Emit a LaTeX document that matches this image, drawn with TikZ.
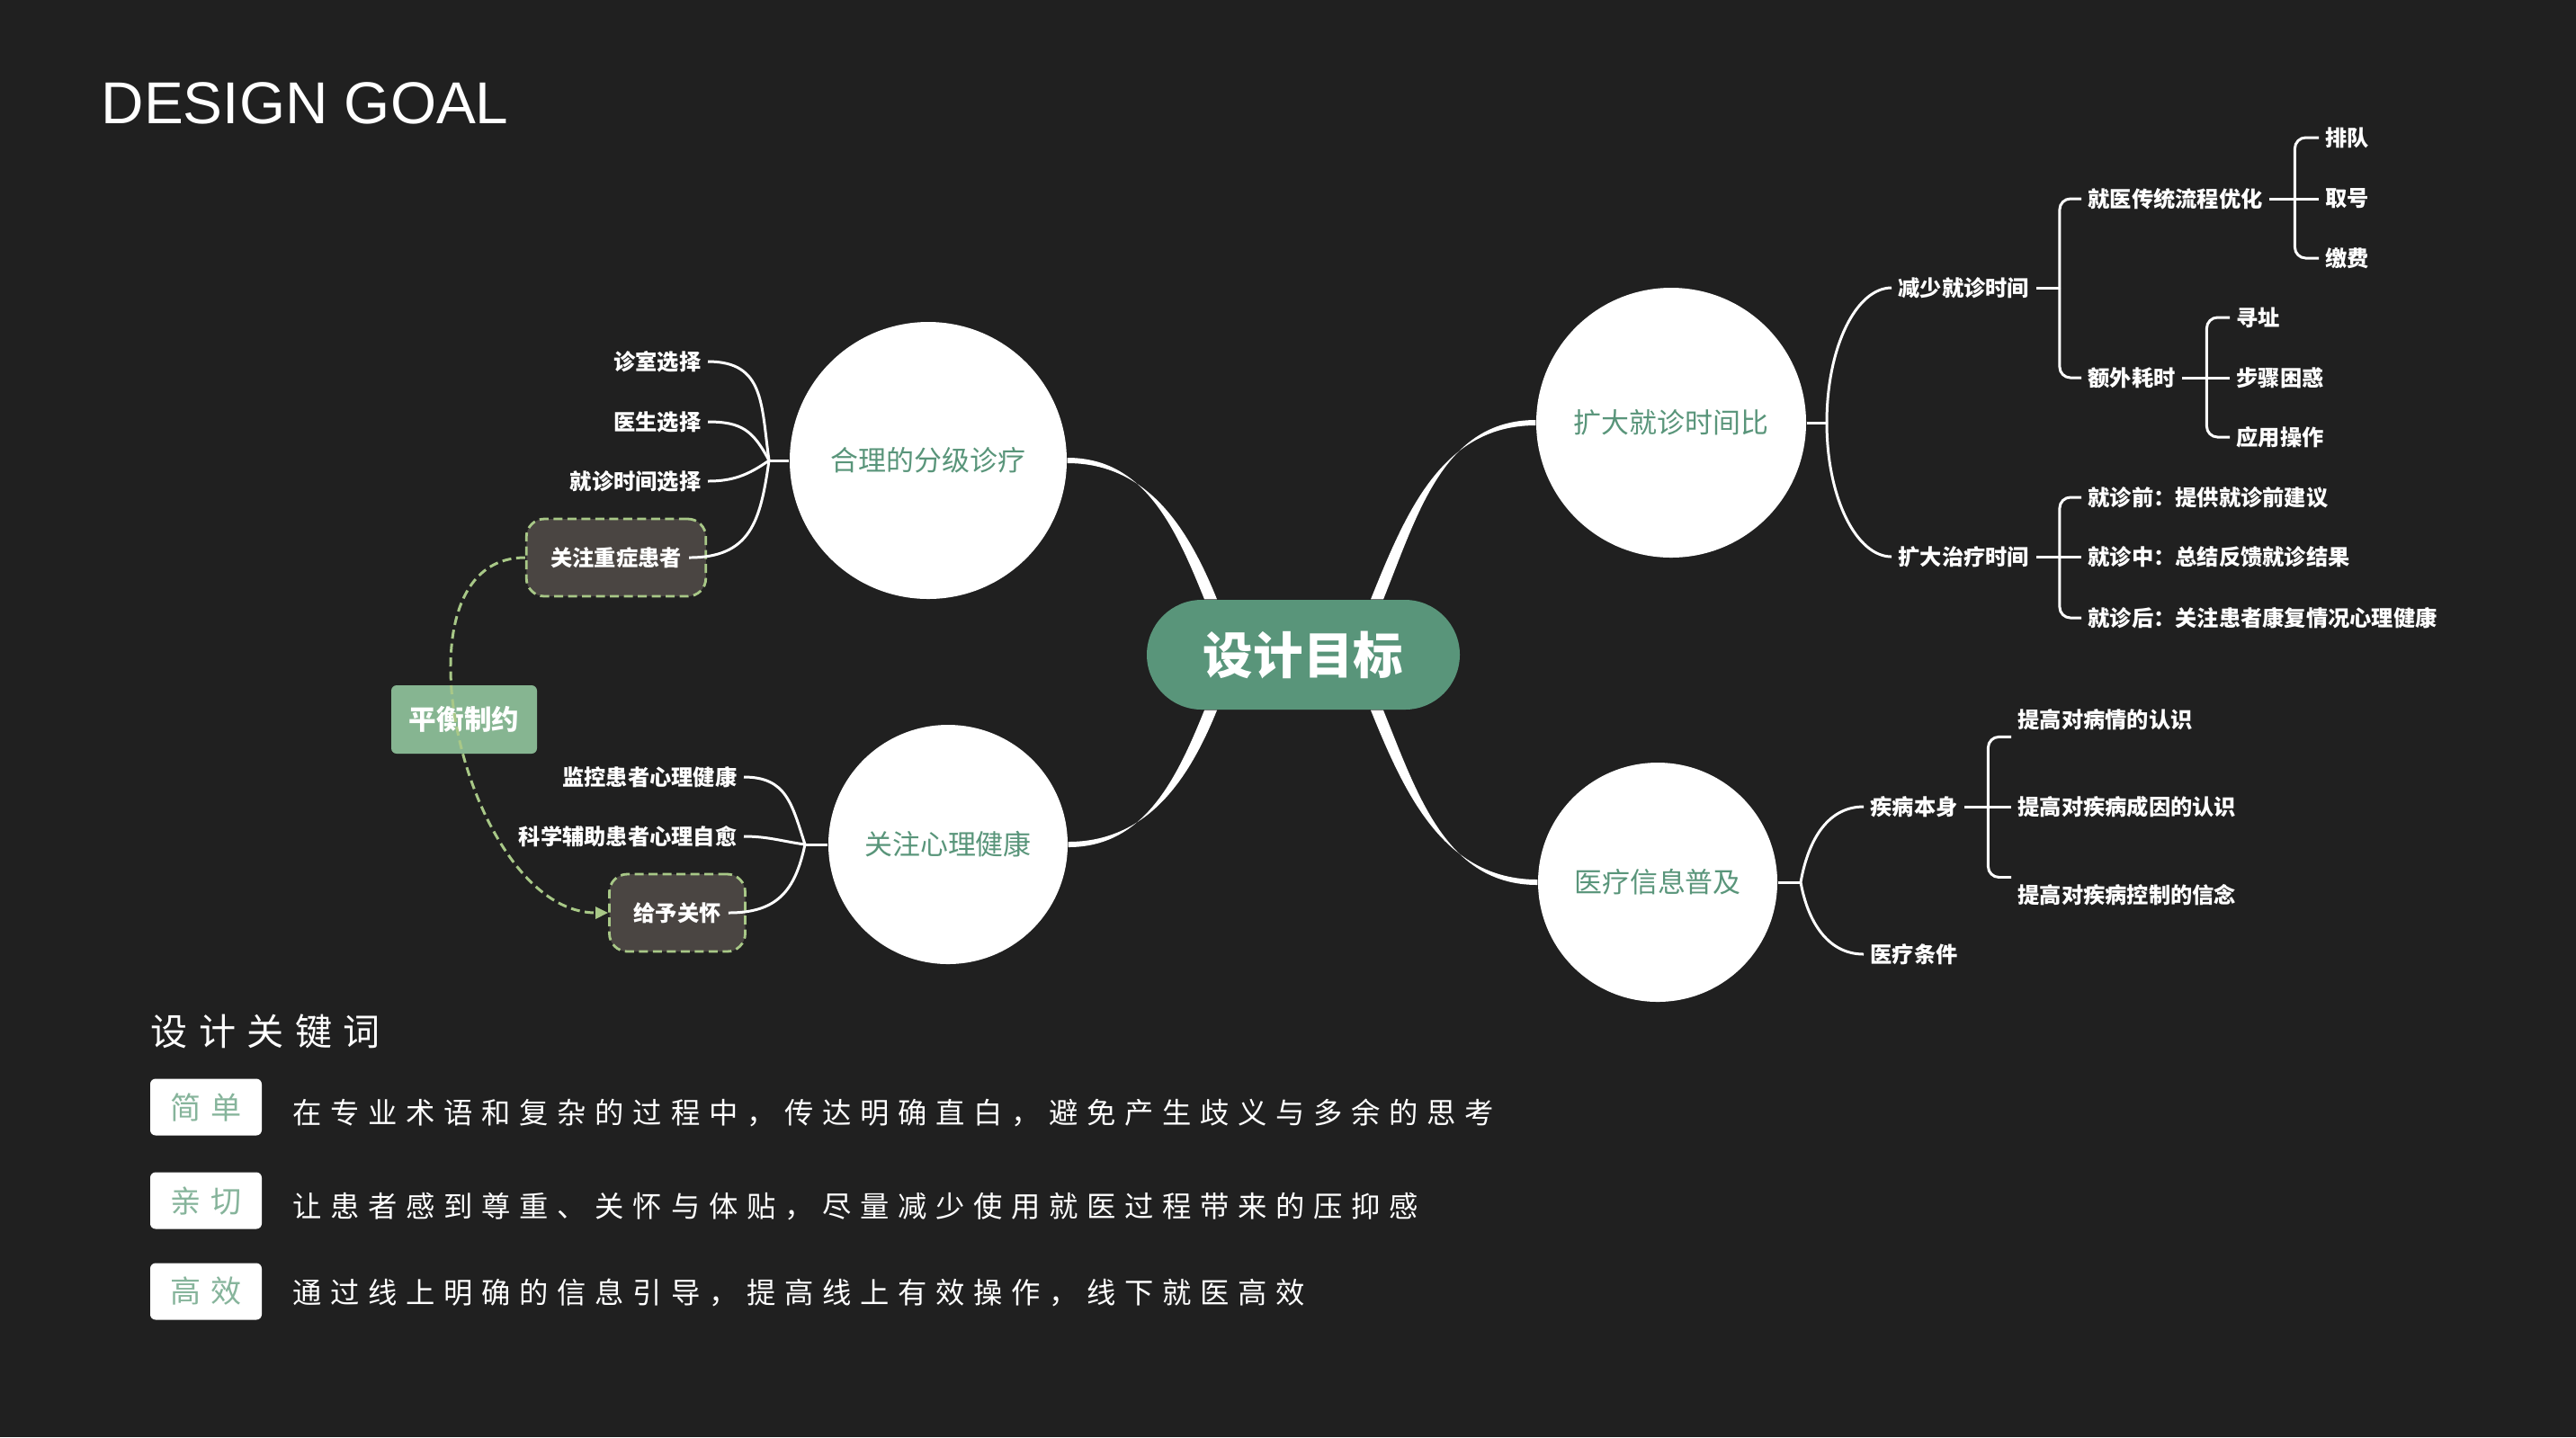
\documentclass[tikz,border=0pt]{standalone}
\usepackage{fontspec}
\setmainfont{Liberation Sans}
\newfontfamily\cjk{Noto Sans CJK SC}
\newfontfamily\cjkwide[LetterSpace=30]{Noto Sans CJK SC}
\usetikzlibrary{arrows.meta}
\definecolor{bg}{RGB}{32,32,32}
\definecolor{goalgreen}{RGB}{89,149,122}
\definecolor{balgreen}{RGB}{134,181,145}
\definecolor{dashgreen}{RGB}{168,200,135}
\definecolor{boxbrown}{RGB}{74,69,66}
\definecolor{taggreen}{RGB}{134,180,155}

\begin{document}
\begin{tikzpicture}[
  goal/.style={fill=goalgreen, rounded corners=0.61cm,
               minimum width=3.48cm, minimum height=1.22cm,
               text=white, font=\cjk\bfseries\fontsize{15.8pt}{18pt}\selectfont},
  topic/.style={circle, fill=white, inner sep=0pt, text=goalgreen,
                font=\cjk\fontsize{8.8pt}{10pt}\selectfont},
  leaf/.style={text=white, inner sep=0.07cm,
               font=\cjk\bfseries\fontsize{6.9pt}{8pt}\selectfont},
  carebox/.style={leaf, draw=dashgreen, fill=boxbrown, line width=0.8pt,
                  dash pattern=on 0.1cm off 0.055cm, rounded corners=0.2cm,
                  inner xsep=0.27cm, minimum height=0.86cm},
  balbox/.style={fill=balgreen, rounded corners=0.06cm, text=white,
                 minimum width=1.62cm, minimum height=0.76cm,
                 font=\cjk\bfseries\fontsize{8.7pt}{10pt}\selectfont},
  trunk/.style={fill=white},
  twig/.style={white, line width=0.85pt},
  bracket/.style={twig, rounded corners=0.12cm},
  link/.style={dashgreen, line width=0.85pt, dash pattern=on 0.1cm off 0.055cm,
               -{Triangle[length=0.14cm, width=0.13cm]}},
  tag/.style={fill=white, rounded corners=0.06cm, text=taggreen,
              minimum width=1.24cm, minimum height=0.63cm, inner sep=0pt,
              font=\cjkwide\fontsize{9.7pt}{11pt}\selectfont},
  desc/.style={anchor=west, inner sep=0pt, text=white,
               font=\cjkwide\fontsize{9.2pt}{11pt}\selectfont},
]
  %% ---- background ----
  \fill[bg] (0,0) rectangle (28.64,-15.98);
  \useasboundingbox (0,0) rectangle (28.64,-15.98);

  \node[anchor=base west, inner sep=0, text=white,
        font=\fontsize{18.7pt}{22pt}\selectfont] (title) at (1.12,-1.37) {DESIGN GOAL};

  %% ---- root and topics ----
  \node[goal] (goal) at (14.49,-7.28) {设计目标};
  \node[topic, minimum size=3.08cm] (A) at (10.32,-5.12) {合理的分级诊疗};
  \node[topic, minimum size=3.00cm] (B) at (18.58,-4.70) {扩大就诊时间比};
  \node[topic, minimum size=2.66cm] (C) at (10.54,-9.39) {关注心理健康};
  \node[topic, minimum size=2.66cm] (D) at (18.43,-9.81) {医疗信息普及};

  \coordinate (ga) at ([xshift=-1.03cm]goal.north);
  \coordinate (gb) at ([xshift=0.82cm]goal.north);
  \coordinate (gc) at ([xshift=-1.03cm]goal.south);
  \coordinate (gd) at ([xshift=0.82cm]goal.south);
  \fill[trunk] ([xshift=-0.07cm]ga) to[out=112,in=0] ([yshift=0.03cm]A.east)
    -- ([yshift=-0.03cm]A.east) to[out=0,in=112] ([xshift=0.07cm]ga) -- cycle;
  \fill[trunk] ([xshift=0.07cm]gb) to[out=68,in=180] ([yshift=0.03cm]B.west)
    -- ([yshift=-0.03cm]B.west) to[out=180,in=68] ([xshift=-0.07cm]gb) -- cycle;
  \fill[trunk] ([xshift=-0.07cm]gc) to[out=-112,in=0] ([yshift=-0.03cm]C.east)
    -- ([yshift=0.03cm]C.east) to[out=0,in=-112] ([xshift=0.07cm]gc) -- cycle;
  \fill[trunk] ([xshift=0.07cm]gd) to[out=-68,in=180] ([yshift=-0.03cm]D.west)
    -- ([yshift=0.03cm]D.west) to[out=180,in=-68] ([xshift=-0.07cm]gd) -- cycle;

  %% ---- topic A ----
  \node[leaf, anchor=east] (a1) at (7.87,-4.02) {诊室选择};
  \node[leaf, anchor=east] (a2) at (7.87,-4.69) {医生选择};
  \node[leaf, anchor=east] (a3) at (7.87,-5.35) {就诊时间选择};
  \node[carebox] (a4) at (6.85,-6.20) {关注重症患者};
  \coordinate (ak) at (8.55,-5.12);
  \draw[twig] (A.west) -- (ak);
  \draw[twig] (ak) to[out=98,in=0,looseness=1.25] (a1.east);
  \draw[twig] (ak) to[out=118,in=0,looseness=1.2] (a2.east);
  \draw[twig] (ak) to[out=215,in=0] (a3.east);
  \draw[twig] (ak) to[out=262,in=0,looseness=1.25] ([xshift=-0.2cm]a4.east);

  %% ---- topic C ----
  \node[leaf, anchor=east] (c1) at (8.27,-8.64) {监控患者心理健康};
  \node[leaf, anchor=east] (c2) at (8.27,-9.30) {科学辅助患者心理自愈};
  \node[carebox] (c3) at (7.53,-10.15) {给予关怀};
  \coordinate (ck) at (8.95,-9.39);
  \draw[twig] (C.west) -- (ck);
  \draw[twig] (ck) to[out=108,in=0,looseness=1.2] (c1.east);
  \draw[twig] (ck) to[out=172,in=0] (c2.east);
  \draw[twig] (ck) to[out=258,in=0,looseness=1.2] ([xshift=-0.2cm]c3.east);

  %% ---- balance ----
  \node[balbox] (bal) at (5.16,-8.00) {平衡制约};
  \draw[link] (a4.west) to[out=180,in=180] (c3.west);

  %% ---- topic B ----
  \node[leaf, anchor=west] (b1) at (21.03,-3.20) {减少就诊时间};
  \node[leaf, anchor=west] (b2) at (21.03,-6.19) {扩大治疗时间};
  \node[leaf, anchor=west] (b11) at (23.14,-2.21) {就医传统流程优化};
  \node[leaf, anchor=west] (b12) at (23.14,-4.20) {额外耗时};
  \node[leaf, anchor=west] (b111) at (25.78,-1.53) {排队};
  \node[leaf, anchor=west] (b112) at (25.78,-2.21) {取号};
  \node[leaf, anchor=west] (b113) at (25.78,-2.87) {缴费};
  \node[leaf, anchor=west] (b121) at (24.79,-3.53) {寻址};
  \node[leaf, anchor=west] (b122) at (24.79,-4.20) {步骤困惑};
  \node[leaf, anchor=west] (b123) at (24.79,-4.86) {应用操作};
  \node[leaf, anchor=west] (b21) at (23.14,-5.53) {就诊前：提供就诊前建议};
  \node[leaf, anchor=west] (b22) at (23.14,-6.19) {就诊中：总结反馈就诊结果};
  \node[leaf, anchor=west] (b23) at (23.14,-6.87) {就诊后：关注患者康复情况心理健康};
  \coordinate (bk) at (20.31,-4.70);
  \draw[twig] (B.east) -- (bk);
  \draw[twig] (bk) to[out=90,in=180,out looseness=1.3,in looseness=0.6] (b1.west);
  \draw[twig] (bk) to[out=-90,in=180,out looseness=1.3,in looseness=0.6] (b2.west);

  \draw[twig] (b1.east) -- ++(0.26,0) coordinate (b1k);
  \draw[bracket] (b1k) |- (b11.west);
  \draw[bracket] (b1k) |- (b12.west);

  \draw[twig] (b11.east) -- ++(0.28,0) coordinate (b11k);
  \draw[bracket] (b11k) |- (b111.west);
  \draw[bracket] (b11k) -- (b112.west);
  \draw[bracket] (b11k) |- (b113.west);

  \draw[twig] (b12.east) -- ++(0.27,0) coordinate (b12k);
  \draw[bracket] (b12k) |- (b121.west);
  \draw[bracket] (b12k) -- (b122.west);
  \draw[bracket] (b12k) |- (b123.west);

  \draw[twig] (b2.east) -- ++(0.26,0) coordinate (b2k);
  \draw[bracket] (b2k) |- (b21.west);
  \draw[bracket] (b2k) -- (b22.west);
  \draw[bracket] (b2k) |- (b23.west);

  %% ---- topic D ----
  \node[leaf, anchor=west] (d1) at (20.72,-8.97) {疾病本身};
  \node[leaf, anchor=west] (d2) at (20.72,-10.61) {医疗条件};
  \node[leaf, anchor=west] (d11) at (22.36,-8.00) {提高对病情的认识};
  \node[leaf, anchor=west] (d12) at (22.36,-8.97) {提高对疾病成因的认识};
  \node[leaf, anchor=west] (d13) at (22.36,-9.95) {提高对疾病控制的信念};
  \coordinate (dk) at (20.02,-9.81);
  \draw[twig] (D.east) -- (dk);
  \draw[twig] (dk) to[out=80,in=180] (d1.west);
  \draw[twig] (dk) to[out=-80,in=180] (d2.west);

  \draw[twig] (d1.east) -- ++(0.26,0) coordinate (d1k);
  \draw[bracket] (d1k) |- (d11.south west);
  \draw[bracket] (d1k) -- (d12.west);
  \draw[bracket] (d1k) |- (d13.north west);

  %% ---- keywords ----
  \node[anchor=west, inner sep=0, text=white,
        font=\cjkwide\fontsize{11.7pt}{14pt}\selectfont] (kw) at (1.67,-11.47) {设计关键词};
  \node[tag] (t1) at (2.29,-12.31) {简单};
  \node[tag] (t2) at (2.29,-13.35) {亲切};
  \node[tag] (t3) at (2.29,-14.36) {高效};
  \node[desc] (s1) at (3.25,-12.37) {在专业术语和复杂的过程中，传达明确直白，避免产生歧义与多余的思考};
  \node[desc] (s2) at (3.25,-13.42) {让患者感到尊重、关怀与体贴，尽量减少使用就医过程带来的压抑感};
  \node[desc] (s3) at (3.25,-14.37) {通过线上明确的信息引导，提高线上有效操作，线下就医高效};
\end{tikzpicture}
\end{document}
